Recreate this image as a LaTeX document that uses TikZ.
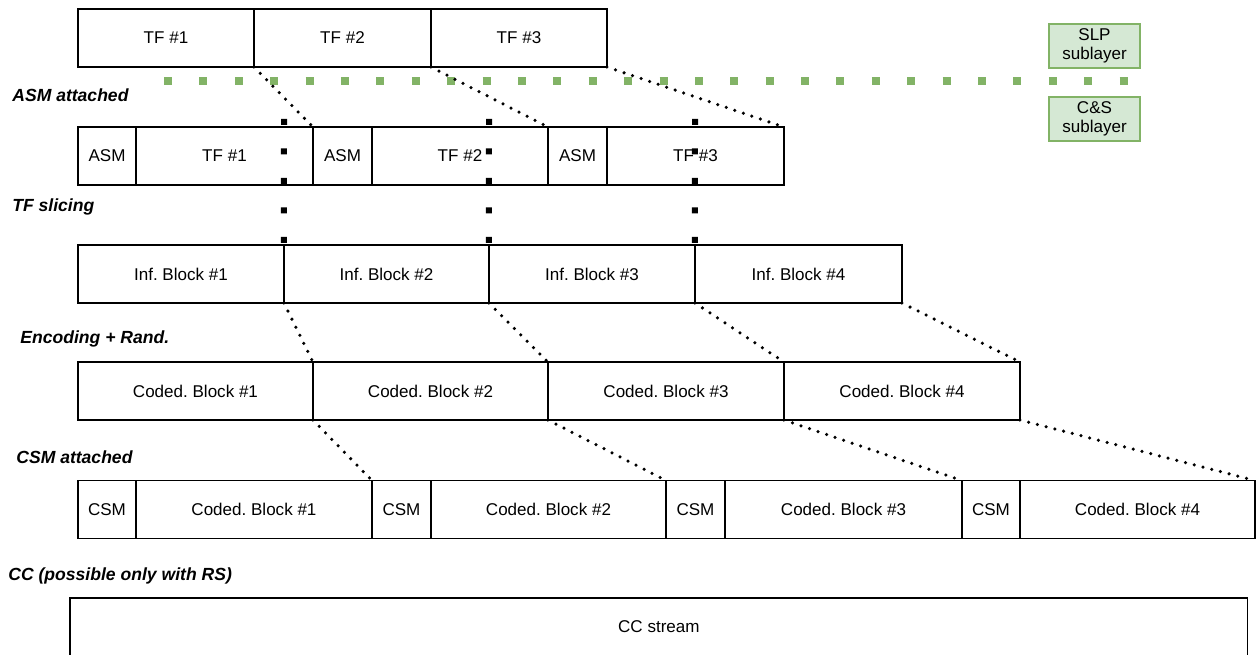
\documentclass[tikz,border=0pt]{standalone}
\usepackage{fontspec}
\setmainfont{Liberation Sans}
\usetikzlibrary{positioning}

\definecolor{slpgreen}{HTML}{82B366}
\definecolor{slpfill}{HTML}{D5E8D4}

\tikzset{
  cell/.style={draw, line width=0.8pt, anchor=west, outer sep=0pt,
    inner sep=0pt, minimum width=#1, minimum height=1.16cm},
  stagelabel/.style={anchor=west, inner sep=0pt,
    font=\fontsize{10pt}{12pt}\selectfont\bfseries\itshape},
  sublayer/.style={draw=slpgreen, fill=slpfill, line width=0.8pt,
    align=center, inner sep=0pt, minimum width=1.82cm, minimum height=0.88cm,
    font=\fontsize{9.7pt}{10.8pt}\selectfont},
  mapping/.style={line width=2pt, line cap=round,
    dash pattern=on 0pt off 0.18cm},
  slicecut/.style={line width=0.12cm, dash pattern=on 0.12cm off 0.47cm},
  layerline/.style={slpgreen, line width=0.16cm,
    dash pattern=on 0.16cm off 0.548cm},
}

\begin{document}
\frenchspacing
\begin{tikzpicture}[x=0.02cm, y=-0.02cm, font=\fontsize{9.7pt}{11pt}\selectfont]
    \useasboundingbox (0,0) rectangle (1258,655);
    %% Transfer frames
    \node[cell=3.52cm] (tf1) at (78,38) {TF \#1};
    \node[cell=3.54cm] (tf2) at (254,38) {TF \#2};
    \node[cell=3.52cm] (tf3) at (431,38) {TF \#3};
    %% Sublayer boundary
    \node[sublayer] (slp) at (1094.5,46) {SLP\\sublayer};
    \node[sublayer] (cs) at (1094.5,119) {C\&S\\sublayer};
    \coordinate (lineL) at (164,81);
    \coordinate (lineR) at (1130,81);
    \draw[layerline] (lineL) -- (lineR);
    %% Stage labels
    \node[stagelabel] (lasm) at (12,95) {ASM attached};
    \node[stagelabel] (lslice) at (12,207) {TF slicing};
    \node[stagelabel] (lenc) at (20,339) {Encoding + Rand.};
    \node[stagelabel] (lcsm) at (16,457) {CSM attached};
    \node[stagelabel] (lcc) at (8,576) {CC (possible only with RS)};
    %% ASM + transfer frames
    \node[cell=1.16cm] (asm1) at (78,156) {ASM};
    \node[cell=3.54cm] (tfa1) at (136,156) {TF \#1};
    \node[cell=1.18cm] (asm2) at (313,156) {ASM};
    \node[cell=3.52cm] (tfa2) at (372,156) {TF \#2};
    \node[cell=1.18cm] (asm3) at (548,156) {ASM};
    \node[cell=3.54cm] (tfa3) at (607,156) {TF \#3};
    %% Information blocks
    \node[cell=4.12cm] (ib1) at (78,274) {Inf. Block \#1};
    \node[cell=4.10cm] (ib2) at (284,274) {Inf. Block \#2};
    \node[cell=4.12cm] (ib3) at (489,274) {Inf. Block \#3};
    \node[cell=4.14cm] (ib4) at (695,274) {Inf. Block \#4};
    %% Coded blocks
    \node[cell=4.70cm] (cb1) at (78,391) {Coded. Block \#1};
    \node[cell=4.70cm] (cb2) at (313,391) {Coded. Block \#2};
    \node[cell=4.72cm] (cb3) at (548,391) {Coded. Block \#3};
    \node[cell=4.72cm] (cb4) at (784,391) {Coded. Block \#4};
    %% CSM + coded blocks
    \node[cell=1.16cm] (csm1) at (78,509.5) {CSM};
    \node[cell=4.72cm] (cc1) at (136,509.5) {Coded. Block \#1};
    \node[cell=1.18cm] (csm2) at (372,509.5) {CSM};
    \node[cell=4.70cm] (cc2) at (431,509.5) {Coded. Block \#2};
    \node[cell=1.18cm] (csm3) at (666,509.5) {CSM};
    \node[cell=4.74cm] (cc3) at (725,509.5) {Coded. Block \#3};
    \node[cell=1.16cm] (csm4) at (962,509.5) {CSM};
    \node[cell=4.70cm] (cc4) at (1020,509.5) {Coded. Block \#4};
    %% CC stream
    \node[cell=23.56cm] (ccs) at (70,627) {CC stream};
    %% Slice cuts
    \coordinate (cut1) at (284,119);
    \coordinate (cut2) at (489,119);
    \coordinate (cut3) at (695,119);
    \draw[slicecut] (cut1) -- (ib1.north east);
    \draw[slicecut] (cut2) -- (ib2.north east);
    \draw[slicecut] (cut3) -- (ib3.north east);
    %% Draw the mappings
    \begin{scope}[every path/.style={mapping}]
      \draw (tf1.south east) -- (tfa1.north east);
      \draw (tf2.south east) -- (tfa2.north east);
      \draw (tf3.south east) -- (tfa3.north east);
      \draw (ib1.south east) -- (cb1.north east);
      \draw (ib2.south east) -- (cb2.north east);
      \draw (ib3.south east) -- (cb3.north east);
      \draw (ib4.south east) -- (cb4.north east);
      \draw (cb1.south east) -- (cc1.north east);
      \draw (cb2.south east) -- (cc2.north east);
      \draw (cb3.south east) -- (cc3.north east);
      \draw (cb4.south east) -- (cc4.north east);
    \end{scope}
\end{tikzpicture}
\end{document}
